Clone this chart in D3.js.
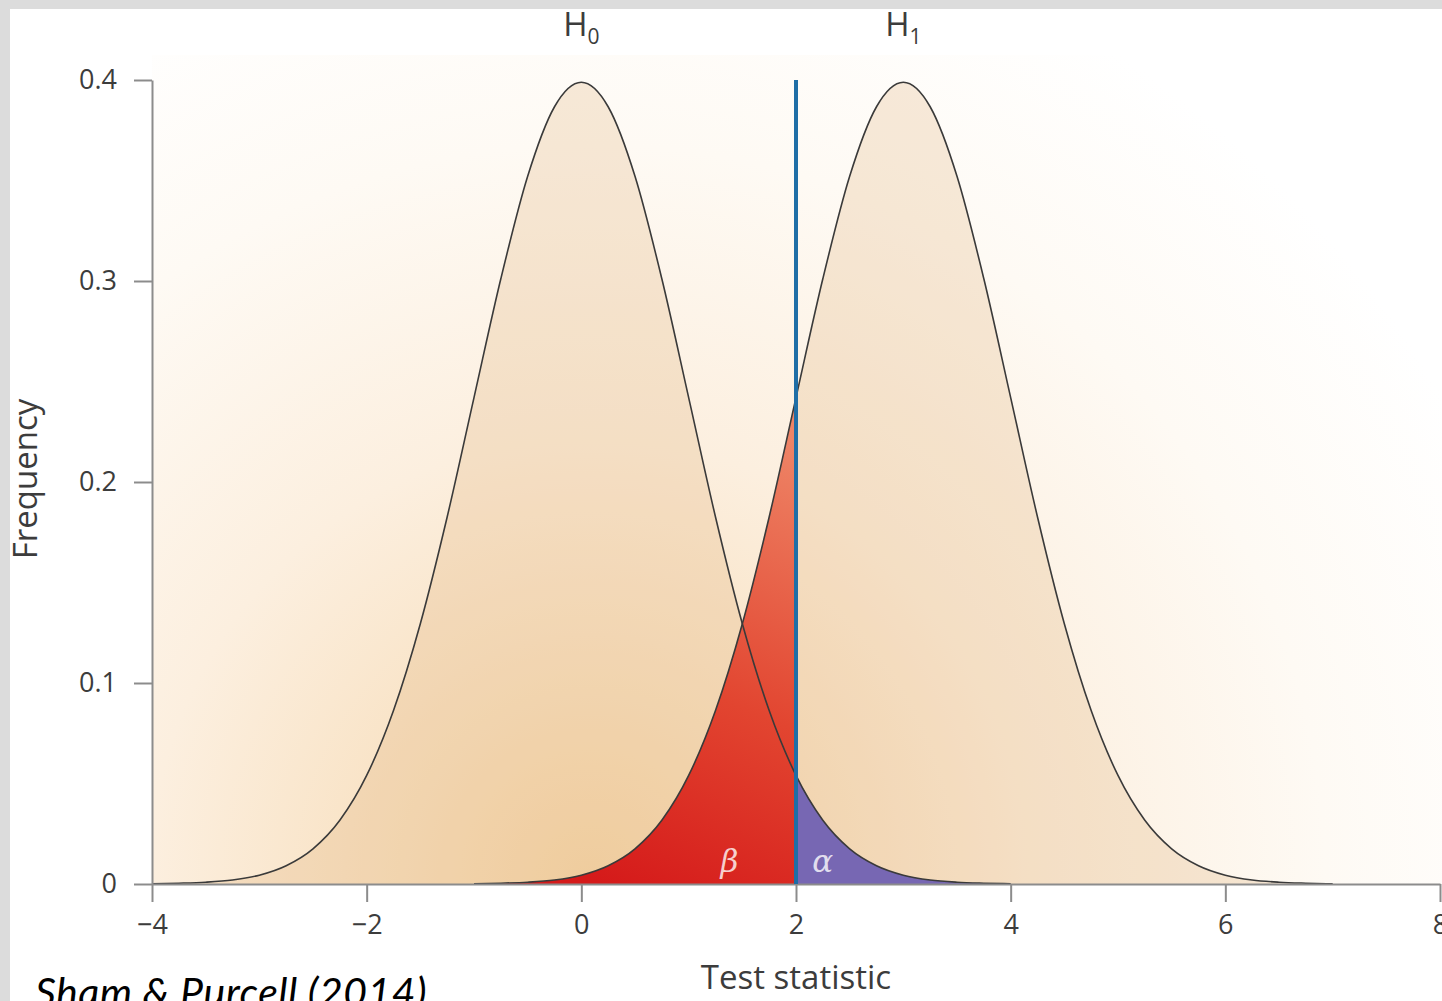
<!DOCTYPE html>
<html>
<head>
<meta charset="utf-8">
<script src="https://cdn.jsdelivr.net/npm/d3@7/dist/d3.min.js"></script>
<style>
  html, body { margin: 0; padding: 0; background: #ffffff; }
  svg { display: block; }
</style>
</head>
<body>
<script>
// Test statistic values (x) and the density of each hypothesis at those values
const h0X = [-4, -3.75, -3.5, -3.25, -3, -2.75, -2.5, -2.25, -2, -1.75, -1.5, -1.25, -1, -0.75, -0.5, -0.25,
             0, 0.25, 0.5, 0.75, 1, 1.25, 1.5, 1.75, 2, 2.25, 2.5, 2.75, 3, 3.25, 3.5, 3.75, 4];
const h0Y = [0.0001, 0.0004, 0.0009, 0.0020, 0.0044, 0.0091, 0.0175, 0.0317, 0.0540, 0.0863, 0.1295, 0.1826,
             0.2420, 0.3011, 0.3521, 0.3867, 0.3989, 0.3867, 0.3521, 0.3011, 0.2420, 0.1826, 0.1295, 0.0863,
             0.0540, 0.0317, 0.0175, 0.0091, 0.0044, 0.0020, 0.0009, 0.0004, 0.0001];
const h1X = [-1, -0.75, -0.5, -0.25, 0, 0.25, 0.5, 0.75, 1, 1.25, 1.5, 1.75, 2, 2.25, 2.5, 2.75,
             3, 3.25, 3.5, 3.75, 4, 4.25, 4.5, 4.75, 5, 5.25, 5.5, 5.75, 6, 6.25, 6.5, 6.75, 7];
const h1Y = [0.0001, 0.0004, 0.0009, 0.0020, 0.0044, 0.0091, 0.0175, 0.0317, 0.0540, 0.0863, 0.1295, 0.1826,
             0.2420, 0.3011, 0.3521, 0.3867, 0.3989, 0.3867, 0.3521, 0.3011, 0.2420, 0.1826, 0.1295, 0.0863,
             0.0540, 0.0317, 0.0175, 0.0091, 0.0044, 0.0020, 0.0009, 0.0004, 0.0001];

// Significance threshold on the test statistic
const criticalValue = 2;
const lineTop = 0.4;

// Hypothesis labels and their centres
const hypNames = ["H", "H"];
const hypSubs = ["0", "1"];
const hypCentres = [0, 3];

// Axis ticks
const xTicks = [-4, -2, 0, 2, 4, 6, 8];
const xTickLabels = ["\u22124", "\u22122", "0", "2", "4", "6", "8"];
const yTicks = [0, 0.1, 0.2, 0.3, 0.4];
const yTickLabels = ["0", "0.1", "0.2", "0.3", "0.4"];

const W = 1442, H = 1001;
const svg = d3.select("body").append("svg").attr("width", W).attr("height", H);
const defs = svg.append("defs");

const x = d3.scaleLinear().domain([-4, 8]).range([152, 1440]);
const y = d3.scaleLinear().domain([0, 0.4]).range([884, 80]);

// Warm radial wash behind the plot
const bg = defs.append("radialGradient").attr("id", "bgWash")
  .attr("gradientUnits", "userSpaceOnUse")
  .attr("cx", 590).attr("cy", 880).attr("r", 980);
[[0, "#f5d7ac"], [0.25, "#f9e4c8"], [0.45, "#fcefdf"], [0.75, "#fefaf4"], [1, "#ffffff"]]
  .forEach(([o, c]) => bg.append("stop").attr("offset", o).attr("stop-color", c));

// Red shading for beta
const red = defs.append("linearGradient").attr("id", "betaFill")
  .attr("gradientUnits", "userSpaceOnUse")
  .attr("x1", x(0.2)).attr("y1", y(0)).attr("x2", x(2)).attr("y2", y(0.22));
[[0, "#d51a1a"], [0.45, "#e24530"], [1, "#ee8466"]]
  .forEach(([o, c]) => red.append("stop").attr("offset", o).attr("stop-color", c));

// Grey frame on the top and left edges
svg.append("rect").attr("x", 0).attr("y", 0).attr("width", W).attr("height", 9).attr("fill", "#dcdcdc");
svg.append("rect").attr("x", 0).attr("y", 0).attr("width", 10).attr("height", H).attr("fill", "#dcdcdc");

// Plot background
svg.append("rect")
  .attr("x", x(-4)).attr("y", 55)
  .attr("width", W - x(-4)).attr("height", y(0) - 55)
  .attr("fill", "url(#bgWash)");

const h0 = h0X.map((v, i) => ({ x: v, y: h0Y[i] }));
const h1 = h1X.map((v, i) => ({ x: v, y: h1Y[i] }));

const area = d3.area().x(d => x(d.x)).y0(y(0)).y1(d => y(d.y)).curve(d3.curveMonotoneX);
const line = d3.line().x(d => x(d.x)).y(d => y(d.y)).curve(d3.curveMonotoneX);

// Tan body of each distribution
[h0, h1].forEach(data => {
  svg.append("path").datum(data).attr("d", area)
    .attr("fill", "rgb(220,172,112)").attr("fill-opacity", 0.24);
});

// beta: H1 below the threshold; alpha: H0 above it
svg.append("path").datum(h1.filter(d => d.x <= criticalValue)).attr("d", area)
  .attr("fill", "url(#betaFill)");
svg.append("path").datum(h0.filter(d => d.x >= criticalValue)).attr("d", area)
  .attr("fill", "#7767b3");

// Distribution outlines
[h0, h1].forEach(data => {
  svg.append("path").datum(data).attr("d", line)
    .attr("fill", "none").attr("stroke", "#3a3a3a").attr("stroke-width", 1.6);
});

// Axes
const axisColor = "#8c8c8c";
const textColor = "#3c3c3c";
const fontUI = "'Open Sans', 'Noto Sans', sans-serif";

const xAxis = svg.append("g").attr("transform", `translate(0,${y(0)})`)
  .call(d3.axisBottom(x).tickValues(xTicks).tickSize(18).tickSizeOuter(0).tickPadding(8)
    .tickFormat((d, i) => xTickLabels[i]));
const yAxis = svg.append("g").attr("transform", `translate(${x(-4)},0)`)
  .call(d3.axisLeft(y).tickValues(yTicks).tickSize(18).tickSizeOuter(0).tickPadding(17)
    .tickFormat((d, i) => yTickLabels[i]));
[xAxis, yAxis].forEach(g => {
  g.select(".domain").attr("stroke", axisColor).attr("stroke-width", 2);
  g.selectAll(".tick line").attr("stroke", axisColor).attr("stroke-width", 2);
  g.selectAll(".tick text").attr("fill", textColor)
    .style("font-family", fontUI).style("font-size", "27px");
});
xAxis.selectAll(".tick text").attr("dy", "0.9em");

// Critical value line
svg.append("line")
  .attr("x1", x(criticalValue)).attr("x2", x(criticalValue))
  .attr("y1", y(0)).attr("y2", y(lineTop))
  .attr("stroke", "#1f6ea6").attr("stroke-width", 4);

// Error-rate symbols
const greek = svg.append("g").style("font-family", "'DejaVu Serif', 'Liberation Serif', serif")
  .style("font-style", "italic").style("font-size", "31px").attr("fill", "#ffffff").attr("fill-opacity", 0.78)
  .attr("text-anchor", "middle");
greek.append("text").attr("x", x(1.38)).attr("y", 872).text("\u03b2");
greek.append("text").attr("x", x(2.25)).attr("y", 872).text("\u03b1");

// Hypothesis labels
hypNames.forEach((n, i) => {
  const t = svg.append("text").attr("x", x(hypCentres[i])).attr("y", 36)
    .attr("text-anchor", "middle").attr("fill", textColor)
    .style("font-family", fontUI).style("font-size", "33px");
  t.append("tspan").text(n);
  t.append("tspan").attr("dy", 8).style("font-size", "21px").text(hypSubs[i]);
});

// Axis titles
svg.append("text").attr("x", x(2)).attr("y", 989).attr("text-anchor", "middle")
  .attr("fill", textColor).style("font-family", fontUI).style("font-size", "33px")
  .text("Test statistic");
svg.append("text").attr("transform", "translate(37,479) rotate(-90)").attr("text-anchor", "middle")
  .attr("fill", textColor).style("font-family", fontUI).style("font-size", "33px")
  .text("Frequency");

// Source
svg.append("text").attr("x", 35).attr("y", 1007)
  .attr("fill", "#000000").style("font-family", "Lato, 'Open Sans', sans-serif")
  .style("font-style", "italic").style("font-size", "41px").style("letter-spacing", "0.5px")
  .text("Sham & Purcell (2014)");
</script>
</body>
</html>
